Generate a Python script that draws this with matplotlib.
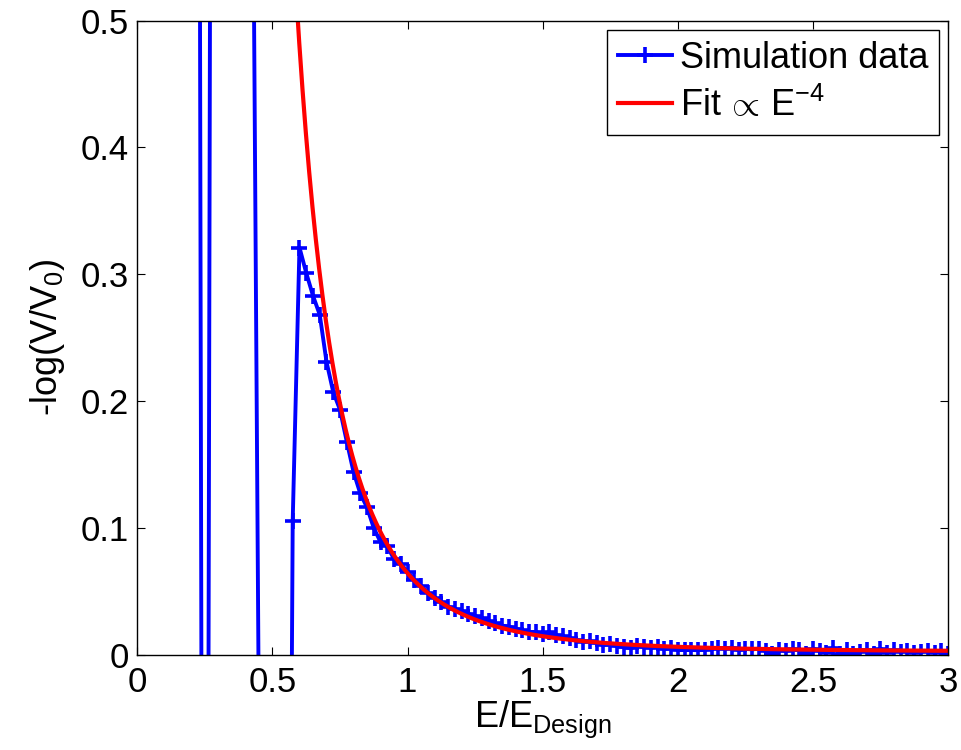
import numpy as np
import matplotlib
matplotlib.use("Agg")
import matplotlib.pyplot as plt

plt.rcParams['font.family'] = ['Liberation Sans', 'DejaVu Sans']
plt.rcParams['mathtext.fontset'] = 'custom'
plt.rcParams['mathtext.rm'] = 'Liberation Sans'
plt.rcParams['mathtext.it'] = 'Liberation Sans:italic'
plt.rcParams['mathtext.bf'] = 'Liberation Sans:bold'

# ---- data ----
sim_E = [0.225, 0.25, 0.275, 0.3, 0.325, 0.35, 0.375, 0.4, 0.425, 0.45,
         0.475, 0.5, 0.525, 0.55, 0.575, 0.6, 0.625, 0.65, 0.675, 0.7,
         0.725, 0.75, 0.775, 0.8, 0.825, 0.85, 0.875, 0.9, 0.925, 0.95,
         0.975, 1.0, 1.025, 1.05, 1.075, 1.1, 1.125, 1.15, 1.175, 1.2,
         1.225, 1.25, 1.275, 1.3, 1.325, 1.35, 1.375, 1.4, 1.425, 1.45,
         1.475, 1.5, 1.525, 1.55, 1.575, 1.6, 1.625, 1.65, 1.675, 1.7,
         1.725, 1.75, 1.775, 1.8, 1.825, 1.85, 1.875, 1.9, 1.925, 1.95,
         1.975, 2.0, 2.025, 2.05, 2.075, 2.1, 2.125, 2.15, 2.175, 2.2,
         2.225, 2.25, 2.275, 2.3, 2.325, 2.35, 2.375, 2.4, 2.425, 2.45,
         2.475, 2.5, 2.525, 2.55, 2.575, 2.6, 2.625, 2.65, 2.675, 2.7,
         2.725, 2.75, 2.775, 2.8, 2.825, 2.85, 2.875, 2.9, 2.925, 2.95,
         2.975, 3.0]
sim_val = [1.2, -1.3, 1.1, 1.5, 1.8, 2.0, 1.6, 1.2, 0.72, -0.06,
           -0.4, -0.6, -0.7, -0.78, 0.1055, 0.321, 0.301, 0.283, 0.268, 0.231,
           0.207, 0.193, 0.168, 0.144, 0.127, 0.116, 0.0998, 0.0887, 0.0856, 0.0751,
           0.0714, 0.0653, 0.0588, 0.054, 0.0487, 0.0443, 0.0416, 0.0377, 0.036, 0.0345,
           0.0320, 0.0305, 0.0285, 0.0265, 0.0245, 0.0228, 0.0220, 0.0205, 0.0190, 0.0178,
           0.0178, 0.0165, 0.0175, 0.0152, 0.0144, 0.0128, 0.0113, 0.0101, 0.0104, 0.0091,
           0.0075, 0.0080, 0.0065, 0.0058, 0.0050, 0.0066, 0.0059, 0.0054, 0.0060, 0.0043,
           0.0048, 0.0037, 0.0035, 0.0036, 0.0034, 0.0039, 0.0045, 0.0051, 0.0047, 0.0055,
           0.0034, 0.0045, 0.0040, 0.0047, 0.0028, 0.0008, 0.0034, 0.0028, 0.0040, 0.0033,
           0.0008, 0.0047, 0.0028, 0.0015, 0.0055, 0.0007, 0.0033, 0.0003, 0.0023, 0.0033,
           0.0007, 0.0047, 0.0015, 0.0033, 0.0023, 0.0028, 0.0015, 0.0023, 0.0028, 0.0015,
           0.0028, 0.0008]

fit_coeff = 0.0619     # fit: coeff * E^-4 + offset
fit_offset = 0.0022
fit_range = (0.55, 3.0)

x_ticks = [0, 0.5, 1, 1.5, 2, 2.5, 3]
x_ticklabels = ['0', '0.5', '1', '1.5', '2', '2.5', '3']
y_ticks = [0, 0.1, 0.2, 0.3, 0.4, 0.5]
y_ticklabels = ['0', '0.1', '0.2', '0.3', '0.4', '0.5']

# ---- plot ----
fig = plt.figure(figsize=(9.61, 7.5), dpi=100)
ax = fig.add_axes([0.1429, 0.1273, 0.8436, 0.8453])

ax.plot(sim_E, sim_val, color='#0000ff', lw=2.8, marker='+', ms=11, mew=2.6,
        label='Simulation data')
fE = np.linspace(fit_range[0], fit_range[1], 400)
ax.plot(fE, fit_coeff * fE ** -4 + fit_offset, color='#ff0000', lw=3.0,
        label=r'Fit$\,\propto\,$E$^{-4}$')

ax.set_xlim(0, 3)
ax.set_ylim(0, 0.5)
ax.set_xticks(x_ticks)
ax.set_xticklabels(x_ticklabels)
ax.set_yticks(y_ticks)
ax.set_yticklabels(y_ticklabels)
ax.tick_params(direction='in', length=6, width=0.8, top=True, right=True,
               labelsize=25, colors='black')
ax.tick_params(axis='y', pad=6)
ax.tick_params(axis='x', pad=8)
for s in ax.spines.values():
    s.set_linewidth(1.0)
    s.set_color('black')

ax.set_xlabel(r'E/E$_{\mathrm{Design}}$', fontsize=26, labelpad=0)
ax.set_ylabel(r'-log(V/V$_0$)', fontsize=26, labelpad=10)

leg = ax.legend(loc='upper right', bbox_to_anchor=(0.989, 0.985), fontsize=26,
                numpoints=1, handlelength=1.5, handletextpad=0.22,
                borderpad=0.3, labelspacing=0.3, borderaxespad=0.0,
                fancybox=False, framealpha=1, edgecolor='black')
leg.get_frame().set_linewidth(1.0)

fig.savefig('out.png', dpi=100)
